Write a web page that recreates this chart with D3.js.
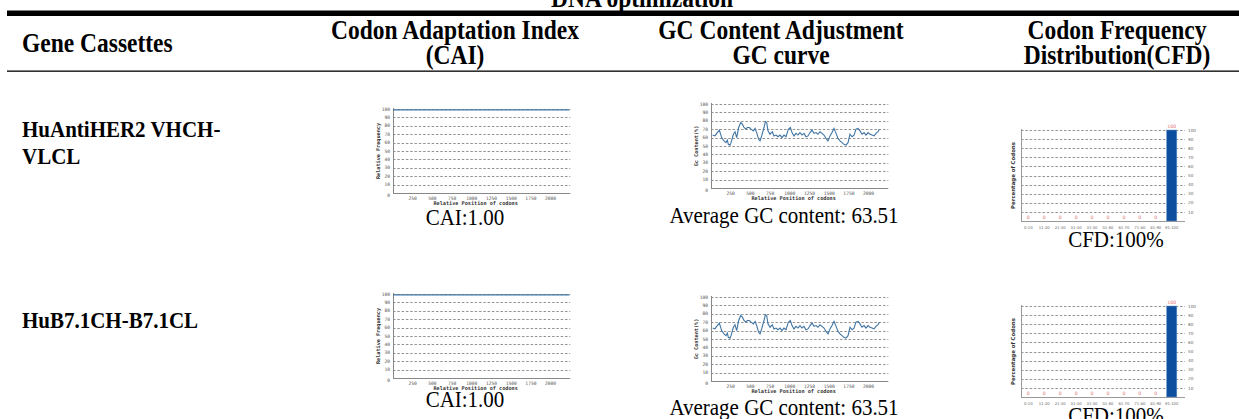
<!DOCTYPE html>
<html>
<head>
<meta charset="utf-8">
<script src="https://cdn.jsdelivr.net/npm/d3@7"></script>
<style>
  html, body { margin: 0; padding: 0; background: #fff; overflow: hidden; }
  svg { display: block; }
</style>
</head>
<body>
<svg id="chart" width="1239" height="419"></svg>
<script>
'use strict'

// table text
const tableTitle = 'DNA optimization'
const headerLines = [
  ['Codon Adaptation Index', '(CAI)'],
  ['GC Content Adjustment', 'GC curve'],
  ['Codon Frequency', 'Distribution(CFD)']
]
const geneNames = [['HuAntiHER2 VHCH-', 'VLCL'], ['HuB7.1CH-B7.1CL']]
const caiValues = ['1.00', '1.00']
const gcAverages = ['63.51', '63.51']
const cfdValues = ['100%', '100%']

// CAI plot (relative frequency along the sequence)
const caiPos = [0, 250, 500, 750, 1000, 1250, 1500, 1750, 2000, 2240]
const caiFreq = [99, 99, 99, 99, 99, 99, 99, 99, 99, 99]

// GC curve
const gcPos = [21, 50, 72, 106, 135, 165, 190, 207, 220, 241, 254, 284, 305, 326, 351, 377,
  398, 419, 444, 461, 487, 508, 537, 559, 580, 605, 622, 643, 673, 690, 707, 723, 749, 778,
  799, 825, 850, 876, 901, 926, 952, 981, 1007, 1028, 1053, 1079, 1104, 1129, 1155, 1180,
  1206, 1231, 1257, 1282, 1307, 1333, 1358, 1383, 1409, 1434, 1460, 1485, 1510, 1536, 1561,
  1587, 1612, 1637, 1663, 1688, 1713, 1739, 1764, 1790, 1815, 1840, 1866, 1891, 1916, 1942,
  1967, 1993, 2018, 2044, 2069, 2094, 2120, 2136]
const gcContent = [63, 62, 65, 69, 60, 56, 54, 57, 52, 51, 54, 64, 67, 60, 72, 78,
  76, 72, 70, 72, 72, 70, 68, 71, 66, 58, 56, 62, 72, 79, 78, 68, 64, 67,
  62, 63, 61, 63, 60, 63, 61, 70, 72, 66, 62, 65, 63, 66, 63, 65,
  61, 62, 66, 69, 65, 66, 64, 67, 65, 63, 59, 56, 62, 66, 71,
  65, 59, 56, 54, 52, 51, 54, 64, 61, 63, 70, 71, 68, 64, 66,
  63, 66, 64, 63, 62, 65, 67, 70]

// codon frequency distribution
const cfdBins = ['0-10', '11-20', '21-30', '31-40', '41-50', '51-60', '61-70', '71-80', '81-90', '91-100']
const cfdPercent = [0, 0, 0, 0, 0, 0, 0, 0, 0, 100]

const posTicks = [250, 500, 750, 1000, 1250, 1500, 1750, 2000]
const pctTicks = [10, 20, 30, 40, 50, 60, 70, 80, 90, 100]

const svg = d3.select('#chart')
const serif = '"Liberation Serif", "Times New Roman", serif'
const mono = '"DejaVu Sans Mono", monospace'
const sans = '"DejaVu Sans", sans-serif'

// the table text in the picture is a bit stretched vertically
function serifText (x, y, t, size, bold, anchor) {
  return svg.append('text')
    .attr('transform', `translate(${x},${y}) scale(1,1.14)`)
    .attr('text-anchor', anchor || 'start')
    .attr('font-family', serif)
    .attr('font-weight', bold ? 'bold' : 'normal')
    .attr('font-size', size)
    .text(t)
}

// title and rules
serifText(642, 7, tableTitle, 23.5, true, 'middle')

svg.append('rect').attr('x', 7).attr('y', 10.5).attr('width', 1232).attr('height', 5.5).attr('fill', '#000')
svg.append('rect').attr('x', 7).attr('y', 70.5).attr('width', 1232).attr('height', 1.3).attr('fill', '#000')

serifText(22, 52, 'Gene Cassettes', 23.5, true)

const headerX = [455, 781, 1117]
headerLines.forEach((lines, i) => {
  lines.forEach((t, j) => {
    serifText(headerX[i], 39 + j * 25, t, 23.5, true, 'middle')
  })
})

const geneY = [137, 328]
geneNames.forEach((lines, i) => {
  lines.forEach((t, j) => {
    serifText(22, geneY[i] + j * 27, t, 21, true)
  })
})

// row placement of the small plots
const caiTop = [109, 294]
const gcTop = [104, 297]
const cfdTop = [130, 306]

function grid (g, y, x0, x1) {
  g.selectAll('line.grid')
    .data(pctTicks)
    .join('line')
    .attr('class', 'grid')
    .attr('x1', x0).attr('x2', x1)
    .attr('y1', (d) => Math.round(y(d)) + 0.5).attr('y2', (d) => Math.round(y(d)) + 0.5)
    .attr('stroke', '#777').attr('stroke-width', 0.8)
    .attr('stroke-dasharray', '2.5,1.8')
}

function positionPlot (g, top, xStart, pos, vals, yLabel) {
  const x = d3.scaleLinear().domain([0, 2250]).range([xStart, xStart + 177.3])
  const y = d3.scaleLinear().domain([0, 100]).range([top + 84, top])
  const [r0, r1] = x.range()

  grid(g, y, r0, r1)

  // axes lines
  g.append('line').attr('x1', r0 + 0.5).attr('x2', r0 + 0.5).attr('y1', top - 1).attr('y2', y(0))
    .attr('stroke', '#888').attr('stroke-width', 1)
  g.append('line').attr('x1', r0).attr('x2', r1).attr('y1', y(0) + 0.5).attr('y2', y(0) + 0.5)
    .attr('stroke', '#888').attr('stroke-width', 1)

  g.selectAll('text.yt')
    .data(pctTicks)
    .join('text')
    .attr('class', 'yt')
    .attr('x', r0 - 3).attr('y', (d) => y(d) + 1.6)
    .attr('text-anchor', 'end')
    .attr('font-family', mono).attr('font-size', 4.6).attr('fill', '#555')
    .text((d) => d)
  g.append('text')
    .attr('x', r0 - 3).attr('y', y(0) + 4)
    .attr('text-anchor', 'end')
    .attr('font-family', mono).attr('font-size', 4.6).attr('fill', '#555')
    .text('0')

  g.selectAll('text.xt')
    .data(posTicks)
    .join('text')
    .attr('class', 'xt')
    .attr('x', (d) => x(d)).attr('y', y(0) + 6.5)
    .attr('text-anchor', 'middle')
    .attr('font-family', mono).attr('font-size', 4.6).attr('fill', '#555')
    .text((d) => d)

  g.append('text')
    .attr('x', (r0 + r1) / 2 - 6).attr('y', y(0) + 12)
    .attr('text-anchor', 'middle')
    .attr('font-family', mono).attr('font-weight', 'bold').attr('font-size', 5.2).attr('fill', '#333')
    .text('Relative Position of codons')

  g.append('text')
    .attr('transform', `translate(${r0 - 13},${(top + y(0)) / 2}) rotate(-90)`)
    .attr('text-anchor', 'middle')
    .attr('font-family', mono).attr('font-weight', 'bold').attr('font-size', 5.2).attr('fill', '#333')
    .text(yLabel)

  const line = d3.line().x((d, i) => x(pos[i])).y((d) => y(d))
  g.append('path')
    .datum(vals)
    .attr('d', line)
    .attr('fill', 'none')
    .attr('stroke', '#3f74a3').attr('stroke-width', 1.1)
}

function cfdPlot (g, top) {
  const x = d3.scaleBand().domain(cfdBins).range([1020, 1180]).paddingInner(0.36).paddingOuter(0.2)
  const y = d3.scaleLinear().domain([0, 100]).range([top + 91, top])

  grid(g, y, 1021, 1185)

  g.append('line').attr('x1', 1021.5).attr('x2', 1021.5).attr('y1', top - 1).attr('y2', y(0))
    .attr('stroke', '#999').attr('stroke-width', 1)
  g.append('line').attr('x1', 1021).attr('x2', 1185).attr('y1', y(0) + 0.5).attr('y2', y(0) + 0.5)
    .attr('stroke', '#999').attr('stroke-width', 1)

  g.selectAll('rect.bar')
    .data(cfdPercent)
    .join('rect')
    .attr('class', 'bar')
    .attr('x', (d, i) => x(cfdBins[i]))
    .attr('width', x.bandwidth())
    .attr('y', (d) => y(d))
    .attr('height', (d) => y(0) - y(d))
    .attr('fill', '#0d4e9e')
    .attr('stroke', '#6d95c4').attr('stroke-width', 0.5)

  g.selectAll('text.val')
    .data(cfdPercent)
    .join('text')
    .attr('class', 'val')
    .attr('x', (d, i) => x(cfdBins[i]) + x.bandwidth() / 2)
    .attr('y', (d) => y(d) - 2)
    .attr('text-anchor', 'middle')
    .attr('font-family', sans).attr('font-size', 4.6).attr('fill', '#e07070')
    .text((d) => d)

  g.selectAll('text.xl')
    .data(cfdBins)
    .join('text')
    .attr('class', 'xl')
    .attr('x', (d) => x(d) + x.bandwidth() / 2)
    .attr('y', y(0) + 7.5)
    .attr('text-anchor', 'middle')
    .attr('font-family', sans).attr('font-size', 3.8).attr('fill', '#666')
    .text((d) => d)

  g.selectAll('text.yr')
    .data(pctTicks)
    .join('text')
    .attr('class', 'yr')
    .attr('x', 1188).attr('y', (d) => y(d) + 1.6)
    .attr('font-family', sans).attr('font-size', 4.2).attr('fill', '#666')
    .text((d) => d)

  g.append('text')
    .attr('transform', `translate(1015,${(top + y(0)) / 2}) rotate(-90)`)
    .attr('text-anchor', 'middle')
    .attr('font-family', sans).attr('font-weight', 'bold').attr('font-size', 5.4).attr('fill', '#333')
    .text('Percentage of Codons')
}

// bottom captions, drawn before the plots so the plot pictures can cover them
const caiCapY = [225, 407]
const gcCapY = [223, 415]
const cfdCapY = [247, 423]

caiValues.forEach((v, i) => serifText(465, caiCapY[i], 'CAI:' + v, 21, false, 'middle'))
gcAverages.forEach((v, i) => serifText(784, gcCapY[i], 'Average GC content: ' + v, 21, false, 'middle'))
cfdValues.forEach((v, i) => serifText(1116, cfdCapY[i], 'CFD:' + v, 21, false, 'middle'))

// plots, each on its own white picture
for (let r = 0; r < 2; r++) {
  const gc = svg.append('g')
  gc.append('rect').attr('x', 370).attr('y', caiTop[r] - 6).attr('width', 210).attr('height', 98).attr('fill', '#fff')
  positionPlot(gc, caiTop[r], 393, caiPos, caiFreq, 'Relative Frequency')

  const gg = svg.append('g')
  gg.append('rect').attr('x', 690).attr('y', gcTop[r] - 6).attr('width', 205).attr('height', 98).attr('fill', '#fff')
  positionPlot(gg, gcTop[r], 711, gcPos, gcContent, 'Gc Content(%)')

  const gf = svg.append('g')
  gf.append('rect').attr('x', 1005).attr('y', cfdTop[r] - 8).attr('width', 200).attr('height', 109).attr('fill', '#fff')
  cfdPlot(gf, cfdTop[r])
}
</script>
</body>
</html>
